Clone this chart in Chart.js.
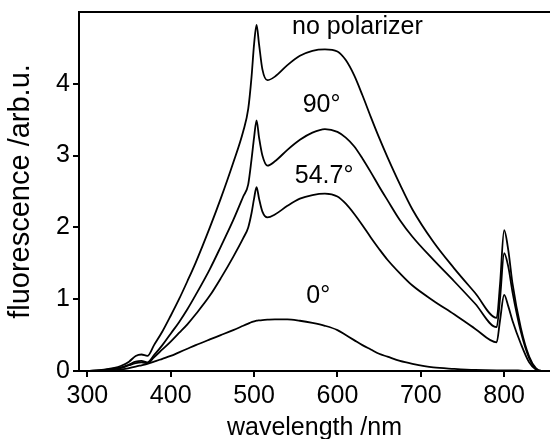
<!DOCTYPE html>
<html>
<head>
<meta charset="utf-8">
<script src="https://cdn.jsdelivr.net/npm/chart.js@4.4.0/dist/chart.umd.min.js"></script>
<style>
  html, body { margin: 0; padding: 0; background: #fff; }
</style>
</head>
<body>
<canvas id="fluoChart" width="550" height="439"></canvas>
<script>
const wavelengths = [300, 320, 340, 350, 358, 365, 372, 380, 390, 400, 410, 420, 430, 447, 460, 475, 487, 493, 497, 500, 503, 506, 510, 516, 525, 540, 555, 570, 585, 600, 610, 620, 630, 640, 650, 660, 675, 690, 715, 740, 765, 791, 795, 800, 805, 810, 820, 830, 838, 845, 850];
const noPolarizer = [0, 0.02, 0.07, 0.13, 0.21, 0.23, 0.21, 0.36, 0.55, 0.77, 1.0, 1.25, 1.51, 2.0, 2.4, 2.9, 3.34, 3.65, 4.1, 4.55, 4.82, 4.55, 4.2, 4.05, 4.1, 4.26, 4.39, 4.46, 4.48, 4.45, 4.33, 4.12, 3.84, 3.54, 3.25, 2.98, 2.6, 2.25, 1.8, 1.43, 1.09, 0.74, 1.2, 1.96, 1.68, 1.22, 0.6, 0.2, 0.04, 0, 0];
const deg90 = [0, 0.015, 0.05, 0.09, 0.13, 0.14, 0.12, 0.22, 0.36, 0.52, 0.68, 0.86, 1.06, 1.42, 1.73, 2.1, 2.43, 2.6, 2.95, 3.25, 3.49, 3.25, 3.0, 2.86, 2.92, 3.08, 3.22, 3.32, 3.37, 3.33, 3.25, 3.13, 2.96, 2.77, 2.57, 2.38, 2.1, 1.87, 1.55, 1.25, 0.94, 0.61, 1.0, 1.64, 1.45, 1.1, 0.55, 0.18, 0.03, 0, 0];
const deg547 = [0, 0.01, 0.04, 0.08, 0.11, 0.12, 0.11, 0.19, 0.3, 0.41, 0.53, 0.65, 0.79, 1.05, 1.29, 1.59, 1.85, 2.0, 2.2, 2.4, 2.56, 2.4, 2.22, 2.14, 2.18, 2.3, 2.4, 2.45, 2.47, 2.43, 2.33, 2.19, 2.03, 1.86, 1.7, 1.55, 1.36, 1.19, 0.98, 0.79, 0.59, 0.4, 0.7, 1.06, 0.9, 0.7, 0.38, 0.12, 0.02, 0, 0];
const deg0 = [0, 0.005, 0.02, 0.04, 0.06, 0.08, 0.1, 0.13, 0.17, 0.21, 0.26, 0.31, 0.36, 0.44, 0.5, 0.57, 0.63, 0.66, 0.68, 0.69, 0.7, 0.705, 0.71, 0.715, 0.72, 0.72, 0.7, 0.67, 0.63, 0.57, 0.5, 0.43, 0.36, 0.3, 0.24, 0.2, 0.14, 0.1, 0.05, 0.03, 0.015, 0.01, 0.01, 0.01, 0.01, 0.01, 0.005, 0, 0, 0, 0];

const xTickValues = [300, 400, 500, 600, 700, 800];
const yTickValues = [0, 1, 2, 3, 4];

// text next to each curve, placed in data units
const curveLabels = ["no polarizer", "90°", "54.7°", "0°"];
const labelX = [624, 581, 584, 577];
const labelY = [4.69, 3.61, 2.625, 0.944];

const fontFamily = '"Liberation Sans", Arial, Helvetica, sans-serif';
const black = "#000";

function toPoints(ys) {
    return wavelengths.map((w, i) => ({ x: w, y: ys[i] }));
}

function curve(ys) {
    return {
        data: toPoints(ys),
        borderColor: black,
        borderWidth: 1.8,
        pointRadius: 0,
        fill: false,
        cubicInterpolationMode: "monotone"
    };
}

const curveText = {
    id: "curveText",
    afterDatasetsDraw(chart) {
        const { ctx, chartArea } = chart;
        const x = chart.scales.x, y = chart.scales.y;
        ctx.save();
        ctx.font = "25px " + fontFamily;
        ctx.fillStyle = black;
        ctx.textAlign = "center";
        ctx.textBaseline = "alphabetic";
        curveLabels.forEach((t, i) => {
            ctx.fillText(t, x.getPixelForValue(labelX[i]), y.getPixelForValue(labelY[i]));
        });
        // frame line along the top
        ctx.strokeStyle = black;
        ctx.lineWidth = 2;
        ctx.beginPath();
        ctx.moveTo(chartArea.left, chartArea.top);
        ctx.lineTo(chartArea.right, chartArea.top);
        ctx.stroke();
        ctx.restore();
    }
};

const axisGrid = { display: true, drawOnChartArea: false, drawTicks: true, tickLength: 6, color: black, lineWidth: 2 };
const axisBorder = { display: true, color: black, width: 2 };

new Chart(document.getElementById("fluoChart"), {
    type: "line",
    data: {
        datasets: [curve(noPolarizer), curve(deg90), curve(deg547), curve(deg0)]
    },
    options: {
        responsive: false,
        animation: false,
        devicePixelRatio: 1,
        layout: { padding: { top: 12, right: 0, left: 0, bottom: 0 } },
        plugins: { legend: { display: false }, tooltip: { enabled: false } },
        scales: {
            x: {
                type: "linear",
                min: 290,
                max: 855,
                afterBuildTicks: s => { s.ticks = xTickValues.map(v => ({ value: v })); },
                afterFit: s => { s.height = 68; s.paddingLeft = 0; s.paddingRight = 0; },
                grid: axisGrid,
                border: axisBorder,
                ticks: { color: black, font: { size: 25, family: fontFamily }, padding: 4, maxRotation: 0, autoSkip: false },
                title: { display: true, text: "wavelength /nm", color: black, font: { size: 25, family: fontFamily }, padding: { top: 0, bottom: -4 } }
            },
            y: {
                type: "linear",
                min: 0,
                max: 5,
                afterBuildTicks: s => { s.ticks = yTickValues.map(v => ({ value: v })); },
                afterFit: s => { s.width = 79; s.paddingTop = 0; s.paddingBottom = 0; },
                grid: axisGrid,
                border: axisBorder,
                ticks: { color: black, font: { size: 25, family: fontFamily }, padding: 3 },
                title: { display: true, text: "fluorescence /arb.u.", color: black, font: { size: 29, family: fontFamily }, padding: { top: 4, bottom: 0 } }
            }
        }
    },
    plugins: [curveText]
});
</script>
</body>
</html>
